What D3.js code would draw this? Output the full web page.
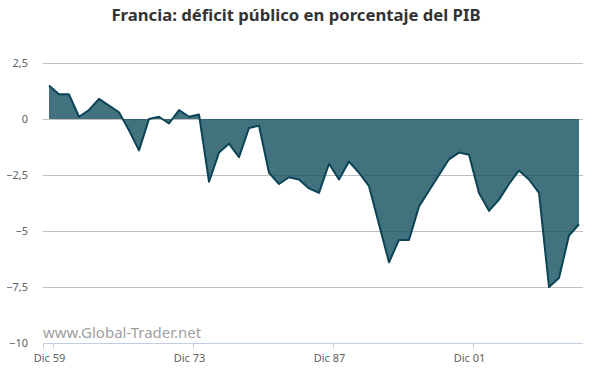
<!DOCTYPE html>
<html>
<head>
<meta charset="utf-8">
<script src="https://cdn.jsdelivr.net/npm/d3@7"></script>
<style>
    body { margin: 0; background: #fff; }
    svg text { font-family: "Noto Sans", "DejaVu Sans", sans-serif; }
</style>
</head>
<body>
<div id="container"></div>
<script>
// deficit publico de Francia, % del PIB, 1959 - 2012
const years = d3.range(1959, 2013)
const values = [
    1.5, 1.1, 1.1, 0.1, 0.4, 0.9, 0.6, 0.3, -0.5, -1.4,
    0.0, 0.1, -0.2, 0.4, 0.1, 0.2, -2.8, -1.5, -1.1, -1.7,
    -0.4, -0.3, -2.4, -2.9, -2.6, -2.7, -3.1, -3.3, -2.0, -2.7,
    -1.9, -2.4, -3.0, -4.7, -6.4, -5.4, -5.4, -3.9, -3.2, -2.5,
    -1.8, -1.5, -1.6, -3.3, -4.1, -3.6, -2.9, -2.3, -2.7, -3.3,
    -7.5, -7.1, -5.2, -4.7,
]
const yTicks = [2.5, 0, -2.5, -5, -7.5, -10]
const xTicks = [1959, 1973, 1987, 2001]

const width = 592
const height = 374
const margin = { top: 63, right: 9, bottom: 31, left: 43 }

const data = years.map((year, i) => ({ year, value: values[i] }))

const svg = d3.select("#container")
    .append("svg")
    .attr("width", width)
    .attr("height", height)

// points sit mid-year, labelled ticks at December
const x = d3.scaleLinear()
    .domain([1958.92, 2012.92])
    .range([margin.left, width - margin.right])
const y = d3.scaleLinear()
    .domain([-10, 2.5])
    .range([height - margin.bottom, margin.top])
const xPos = (d) => x(d.year + 0.52)

svg.append("text")
    .attr("x", width / 2)
    .attr("y", 21)
    .attr("text-anchor", "middle")
    .attr("font-size", 16.7)
    .attr("font-weight", "bold")
    .attr("fill", "#333")
    .text("Francia: déficit público en porcentaje del PIB")

// grid
svg.append("g")
    .selectAll("line")
    .data(yTicks.filter((t) => t !== -10))
    .join("line")
    .attr("x1", margin.left)
    .attr("x2", width - margin.right)
    .attr("y1", (d) => Math.round(y(d)) + 0.5)
    .attr("y2", (d) => Math.round(y(d)) + 0.5)
    .attr("stroke", "#c0c0c0")
    .attr("stroke-width", 1)

const fmt = (v) => d3.format(",.1~f")(v).replace(".", ",").replace("-", "−")
svg.append("g")
    .selectAll("text")
    .data(yTicks)
    .join("text")
    .attr("x", 28)
    .attr("y", (d) => y(d) + 4)
    .attr("text-anchor", "end")
    .attr("font-size", 11)
    .attr("fill", "#606060")
    .text(fmt)

const area = d3.area()
    .x(xPos)
    .y0(y(0))
    .y1((d) => y(d.value))
const line = d3.line()
    .x(xPos)
    .y((d) => y(d.value))

svg.append("path")
    .datum(data)
    .attr("d", area)
    .attr("fill", "#0d4a5a")
    .attr("fill-opacity", 0.78)

svg.append("path")
    .datum(data)
    .attr("d", line)
    .attr("fill", "none")
    .attr("stroke", "#0b4457")
    .attr("stroke-width", 2)
    .attr("stroke-linejoin", "round")

svg.append("text")
    .attr("x", margin.left)
    .attr("y", 338)
    .attr("font-size", 15)
    .attr("fill", "#a0a0a0")
    .text("www.Global-Trader.net")

// x axis
const xAxis = d3.axisBottom(x)
    .tickValues(xTicks.map((t) => t + 0.92))
    .tickSize(5)
    .tickFormat((d, i) => "Dic " + String(xTicks[i]).slice(2))
const gx = svg.append("g")
    .attr("transform", `translate(0,${Math.round(y(-10)) + 0.5})`)
    .call(xAxis)
gx.select(".domain").attr("stroke", "#c0d0e0").attr("d", `M${margin.left},0H${width - margin.right}`)
gx.selectAll(".tick line").attr("stroke", "#c0d0e0")
gx.selectAll(".tick text")
    .attr("font-size", 11)
    .attr("fill", "#606060")
    .attr("font-family", "Noto Sans, sans-serif")
    .attr("x", -4)
    .attr("dy", "0.95em")
gx.append("line")
    .attr("x1", margin.left + 0.5)
    .attr("x2", margin.left + 0.5)
    .attr("y2", 5)
    .attr("stroke", "#c0d0e0")
</script>
</body>
</html>
